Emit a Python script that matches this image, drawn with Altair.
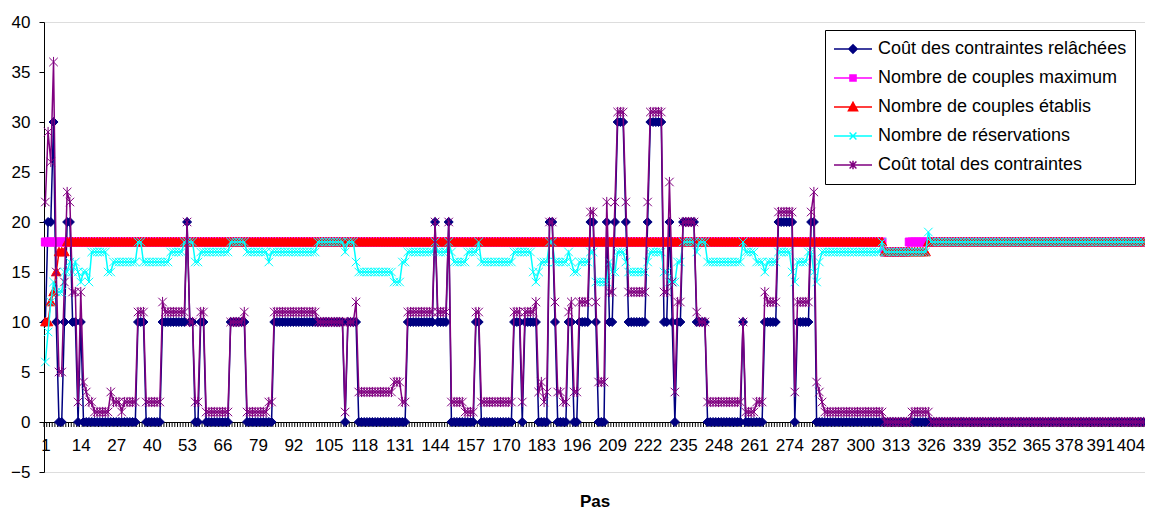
import altair as alt
import pandas as pd

N_STEPS = 404

SERIES = [
    "Coût des contraintes relâchées",
    "Nombre de couples maximum",
    "Nombre de couples établis",
    "Nombre de réservations",
    "Coût total des contraintes",
]
COLORS = ["#000080", "#FF00FF", "#FF0000", "#00FFFF", "#800080"]

# values, as (first step, value) runs
RELACHEES = [
    (1, 10), (2, 20), (4, 30), (5, 10), (6, 0), (8, 10), (9, 20), (11, 10), (13, 0), (14, 10), (15, 0),
    (35, 10), (38, 0), (44, 10), (53, 20), (54, 10), (56, 0), (58, 10), (60, 0), (69, 10), (75, 0),
    (85, 10), (111, 0), (112, 10), (116, 0), (134, 10), (144, 20), (145, 10), (149, 20), (150, 0),
    (159, 10), (161, 0), (173, 10), (176, 0), (177, 10), (182, 0), (186, 20), (188, 10), (189, 0),
    (193, 10), (195, 0), (197, 10), (201, 20), (203, 10), (204, 0), (207, 20), (208, 10), (210, 20),
    (211, 30), (214, 20), (215, 10), (222, 20), (223, 30), (228, 10), (230, 20), (231, 10), (232, 0),
    (233, 10), (235, 20), (240, 10), (244, 0), (257, 10), (258, 0), (265, 10), (270, 20), (276, 0),
    (277, 10), (282, 20), (284, 0),
]
MAXIMUM = [(1, 18), (309, 17), (318, 18)]
ETABLIS = [(1, 10), (3, 12), (4, 13), (5, 15), (6, 17), (9, 18), (309, 17), (325, 18)]
RESERVATIONS = [
    (1, 6), (2, 9), (3, 12), (4, 14), (5, 13), (8, 15), (10, 16), (11, 15), (12, 16), (13, 15), (14, 14),
    (15, 15), (17, 14), (18, 17), (24, 15), (26, 16), (35, 18), (37, 16), (47, 17), (52, 18), (56, 16),
    (58, 17), (69, 18), (75, 17), (83, 16), (84, 17), (101, 18), (111, 17), (112, 18), (115, 16),
    (116, 15), (129, 14), (132, 16), (134, 17), (144, 18), (145, 17), (149, 18), (150, 17), (151, 16),
    (156, 17), (160, 18), (161, 16), (173, 17), (180, 15), (181, 14), (182, 15), (183, 16), (186, 18),
    (188, 16), (193, 17), (194, 16), (195, 15), (197, 16), (201, 17), (203, 14), (208, 16), (209, 15),
    (211, 17), (214, 16), (215, 15), (222, 16), (223, 17), (228, 15), (230, 14), (233, 16), (235, 18),
    (240, 17), (241, 18), (244, 16), (257, 18), (258, 17), (262, 16), (265, 15), (266, 16), (270, 17),
    (275, 15), (276, 14), (277, 16), (281, 17), (283, 15), (284, 14), (285, 16), (286, 17), (308, 18),
    (309, 17), (325, 19), (326, 18),
]
TOTAL = [
    (1, 22), (2, 29), (3, 26), (4, 36), (5, 15), (6, 5), (8, 14), (9, 23), (10, 22), (11, 13), (13, 2),
    (14, 13), (15, 4), (16, 3), (17, 2), (19, 1), (25, 3), (26, 2), (29, 1), (30, 2), (35, 11), (38, 2),
    (44, 12), (45, 11), (53, 20), (54, 10), (56, 2), (58, 11), (60, 1), (69, 10), (74, 11), (75, 1),
    (83, 2), (85, 11), (101, 10), (111, 1), (112, 10), (115, 12), (116, 3), (129, 4), (132, 2), (134, 11),
    (144, 20), (145, 11), (149, 20), (150, 2), (155, 1), (159, 11), (161, 2), (173, 11), (176, 2),
    (177, 11), (181, 12), (182, 3), (183, 4), (184, 2), (185, 3), (186, 20), (188, 12), (189, 3),
    (191, 2), (193, 11), (194, 12), (195, 3), (197, 12), (201, 21), (203, 12), (204, 4), (207, 22),
    (208, 13), (210, 22), (211, 31), (214, 22), (215, 13), (222, 22), (223, 31), (228, 13), (230, 24),
    (231, 14), (232, 3), (233, 12), (235, 20), (240, 11), (241, 10), (244, 2), (257, 10), (258, 1),
    (262, 2), (265, 13), (266, 12), (270, 21), (276, 3), (277, 12), (282, 21), (283, 23), (284, 4),
    (285, 3), (286, 2), (287, 1), (309, 0), (319, 1), (326, 0),
]
X_LABELS = list(range(1, N_STEPS + 1, 13))
Y_TICKS = list(range(-5, 41, 5))

MARKER_PATHS = [
    "M0,-1L1,0L0,1L-1,0Z",
    "M-1,-1H1V1H-1Z",
    "M0,-1L1,0.8H-1Z",
    "M-1,-1L1,1M-1,1L1,-1",
    "M-1,-1L1,1M-1,1L1,-1M0,-1.2V1.2",
]
MARKER_SIZES = [81, 64, 90, 72, 72]
LEGEND_PATHS = [
    "M-1,0H1M0,-0.22L0.22,0L0,0.22L-0.22,0Z",
    "M-1,0H1M-0.16,-0.16H0.16V0.16H-0.16Z",
    "M-1,0H1M0,-0.24L0.24,0.2H-0.24Z",
    "M-1,0H1M-0.18,-0.18L0.18,0.18M-0.18,0.18L0.18,-0.18",
    "M-1,0H1M-0.18,-0.18L0.18,0.18M-0.18,0.18L0.18,-0.18M0,-0.22V0.22",
]


def expand(runs):
    vals = []
    for i, (start, v) in enumerate(runs):
        end = runs[i + 1][0] if i + 1 < len(runs) else N_STEPS + 1
        assert end > start
        vals += [v] * (end - start)
    assert len(vals) == N_STEPS
    return vals


ALL = [RELACHEES, MAXIMUM, ETABLIS, RESERVATIONS, TOTAL]
frames = []
for name, runs in zip(SERIES, ALL):
    frames.append(pd.DataFrame({"step": range(1, N_STEPS + 1), "value": expand(runs), "series": name}))

FONT = "Liberation Sans"
# small nudges so that the last labels stay inside the picture without touching
LABEL_NUDGE = {X_LABELS[-4]: -1, X_LABELS[-3]: -4, X_LABELS[-2]: -8, X_LABELS[-1]: 1}

X_SCALE = alt.Scale(domain=[0.5, N_STEPS + 0.5], nice=False, zero=False)
X_AXIS = alt.Axis(
    values=X_LABELS, ticks=False, tickSize=0, grid=False, offset=-50,
    domainColor="black", domainWidth=1,
    labelFontSize=17, labelFont=FONT, labelColor="black", labelPadding=15,
    labelAlign={"condition": {"test": f"datum.value == {X_LABELS[-1]}", "value": "right"}, "value": "center"},
    labelOffset={"condition": [
        {"test": f"datum.value == {k}", "value": v} for k, v in LABEL_NUDGE.items()
    ], "value": 0},
    labelFlush=False, labelOverlap=False, labelBound=False,
    title="Pas", titleFont=FONT, titleFontSize=17, titleFontWeight="bold",
    titleColor="black", titlePadding=40,
)
Y_SCALE = alt.Scale(domain=[-5, 40], nice=False, zero=False)
Y_AXIS = alt.Axis(
    values=Y_TICKS, tickSize=5, tickColor="black", domainColor="black",
    gridColor="black", gridWidth=1, gridOpacity=1,
    labelFontSize=17, labelFont=FONT, labelColor="black", labelPadding=9,
    labelFlush=False, labelOverlap=False, title=None,
)
x_enc = alt.X("step:Q", scale=X_SCALE, axis=X_AXIS)
y_enc = alt.Y("value:Q", scale=Y_SCALE, axis=Y_AXIS)

bounds = pd.DataFrame({"step": [s + 0.5 for s in range(0, N_STEPS + 1)]})
ticks = alt.Chart(bounds).mark_rule(color="black", strokeWidth=1).encode(
    x=x_enc,
    y=alt.Y(datum=0, scale=Y_SCALE, axis=Y_AXIS),
    y2=alt.Y2(datum=-0.5),
)

layers = [ticks]
for df, col, path, size in zip(frames, COLORS, MARKER_PATHS, MARKER_SIZES):
    base = alt.Chart(df)
    layers.append(base.mark_line(color=col, strokeWidth=1.5).encode(x=x_enc, y=y_enc))
    layers.append(
        base.mark_point(shape=path, size=size, filled=True, fill=col, stroke=col,
                        strokeWidth=1, opacity=1).encode(x=x_enc, y=y_enc)
    )

leg = alt.Legend(
    title=None, orient="none", legendX=781, legendY=8, padding=8,
    fillColor="white", strokeColor="black", cornerRadius=0,
    symbolSize=1444, symbolStrokeWidth=1.5, symbolOpacity=1,
    labelFontSize=18, labelFont=FONT, labelColor="black", labelOffset=5,
    clipHeight=22, rowPadding=7, labelLimit=400,
)
legend_df = pd.DataFrame({"series": SERIES})
legend_layer = alt.Chart(legend_df).mark_point(filled=True, opacity=0, size=1444).encode(
    fill=alt.Fill("series:N", scale=alt.Scale(domain=SERIES, range=COLORS), legend=leg, sort=SERIES),
    stroke=alt.Stroke("series:N", scale=alt.Scale(domain=SERIES, range=COLORS), legend=leg, sort=SERIES),
    shape=alt.Shape("series:N", scale=alt.Scale(domain=SERIES, range=LEGEND_PATHS), legend=leg, sort=SERIES),
)
layers.append(legend_layer)

chart = alt.layer(*layers).properties(
    width=1101, height=450,
    autosize=alt.AutoSizeParams(type="none"),
    padding={"left": 36, "top": 14, "right": 0, "bottom": 37},
).configure_view(stroke="#555555", strokeWidth=1).configure(font=FONT, background="white")

chart.save("out.html", embed_options={"renderer": "svg", "actions": False})
